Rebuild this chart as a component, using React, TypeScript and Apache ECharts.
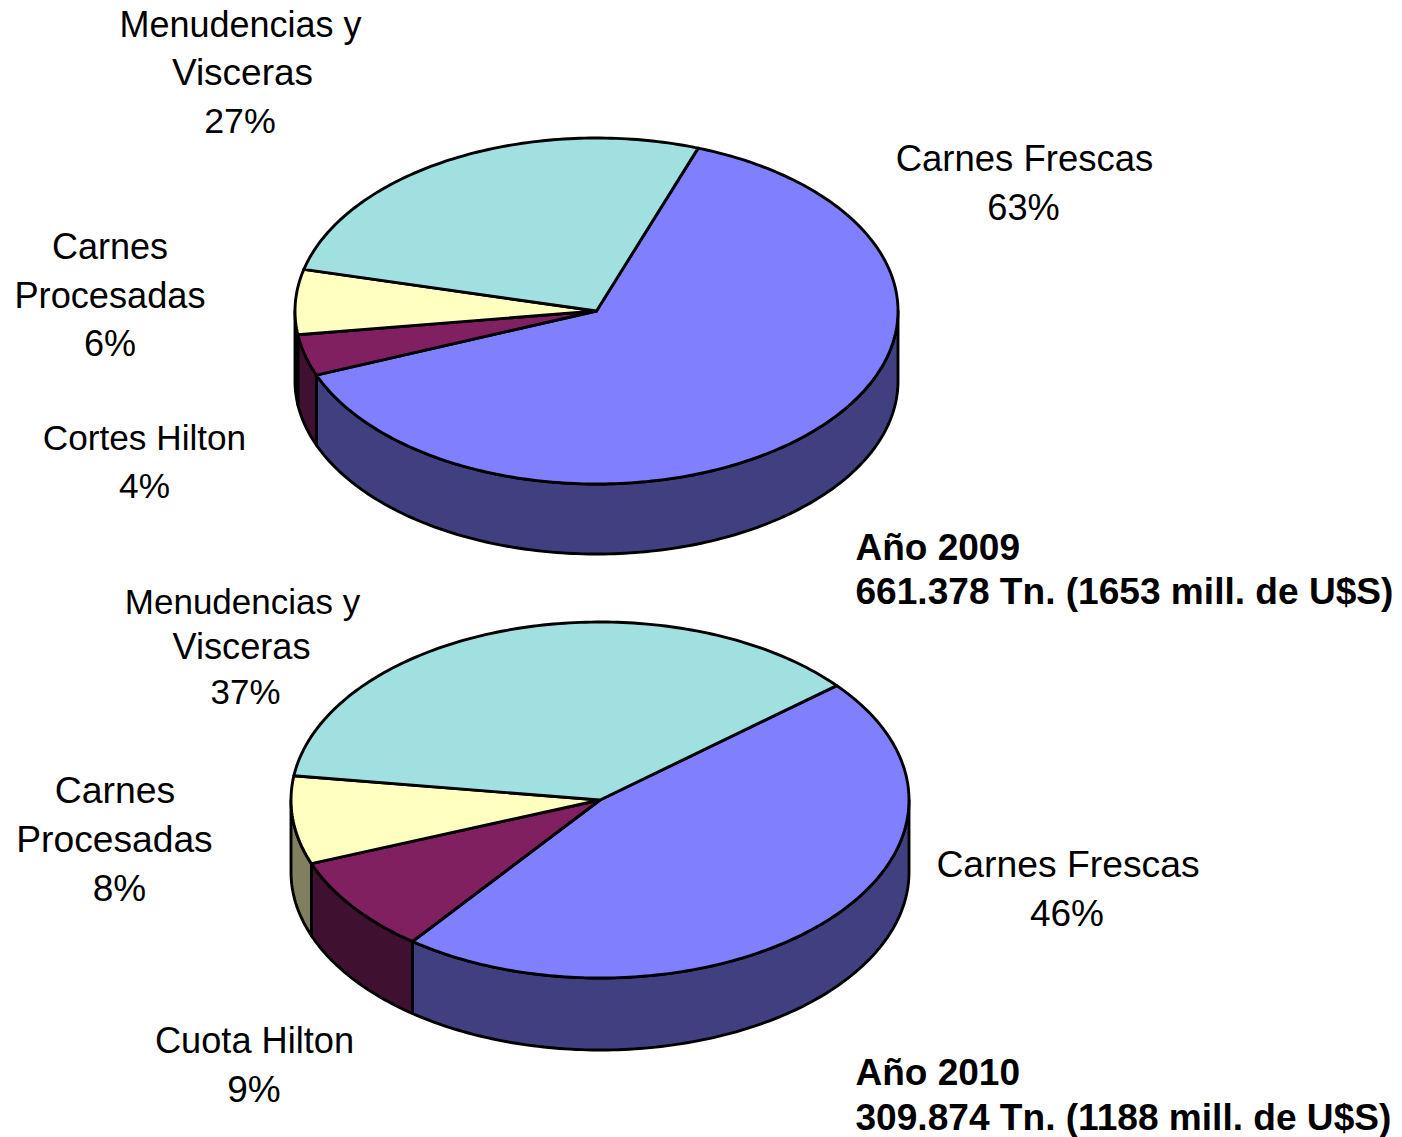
import React, { useEffect, useRef } from "react";
import * as echarts from "echarts";

const categories2009 = ["Carnes Frescas", "Cortes Hilton", "Carnes Procesadas", "Menudencias y Visceras"];
const categories2010 = ["Carnes Frescas", "Cuota Hilton", "Carnes Procesadas", "Menudencias y Visceras"];
const values2009 = [63.49, 3.85, 6.05, 26.61];
const values2010 = [46.49, 8.8, 8.0, 36.71];
const caption2009 = ["Año 2009", "661.378 Tn. (1653 mill. de U$S)"];
const caption2010 = ["Año 2010", "309.874 Tn. (1188 mill. de U$S)"];

const topColors = ["#8080FF", "#802060", "#FFFFC0", "#A0E0E0"];
const sideColors = ["#404080", "#401030", "#808060", "#507070"];
const FONT = '"Liberation Sans", Arial, sans-serif';

type Pie = { cx: number; cy: number; rx: number; ry: number; depth: number; start: number };
const pie2009: Pie = { cx: 596.5, cy: 311, rx: 301.5, ry: 173, depth: 70, start: 19.7 };
const pie2010: Pie = { cx: 600, cy: 800, rx: 309, ry: 178, depth: 72, start: 50 };

function pt(p: Pie, deg: number, dy = 0): number[] {
  const t = (deg * Math.PI) / 180;
  return [p.cx + p.rx * Math.sin(t), p.cy - p.ry * Math.cos(t) + dy];
}
function arc(p: Pie, a: number, b: number, dy = 0): number[][] {
  const out: number[][] = [];
  const n = Math.max(2, Math.ceil(Math.abs(b - a)));
  for (let i = 0; i <= n; i++) out.push(pt(p, a + ((b - a) * i) / n, dy));
  return out;
}
function span(values: number[], idx: number, start: number): [number, number] {
  const total = values.reduce((s, v) => s + v, 0);
  let acc = 0;
  for (let i = 0; i < idx; i++) acc += values[i];
  return [start + (acc / total) * 360, start + ((acc + values[idx]) / total) * 360];
}

function pieSeries(p: Pie, names: string[], values: number[]): any[] {
  const data = values.map((v, i) => ({ name: names[i], value: v }));
  const stroke = { stroke: "#000", lineWidth: 2.9, lineJoin: "round" };
  return [
    {
      type: "custom",
      coordinateSystem: "none",
      silent: true,
      z: 1,
      data,
      renderItem: (params: any) => {
        const i = params.dataIndex;
        const [a, b] = span(values, i, p.start);
        const s = Math.max(a, 90);
        const e = Math.min(b, 270);
        if (e <= s) return { type: "group", children: [] };
        const points = [...arc(p, s, e), ...arc(p, e, s, p.depth)];
        return { type: "polygon", shape: { points }, style: { fill: sideColors[i], ...stroke } };
      },
    },
    {
      type: "custom",
      coordinateSystem: "none",
      silent: true,
      z: 2,
      data,
      renderItem: (params: any) => {
        const i = params.dataIndex;
        const [a, b] = span(values, i, p.start);
        const points = [[p.cx, p.cy], ...arc(p, a, b)];
        return { type: "polygon", shape: { points }, style: { fill: topColors[i], ...stroke } };
      },
    },
  ];
}

function txt(text: string, x: number, y: number, size: number, bold = false, align = "center"): any {
  return {
    type: "text",
    x,
    y,
    silent: true,
    style: {
      text,
      fill: "#000",
      fontFamily: FONT,
      fontSize: size,
      fontWeight: bold ? "bold" : "normal",
      align,
      verticalAlign: "middle",
    },
  };
}

const pctLabel = (v: number) => `${Math.round(v)}%`;

function buildTexts(): any[] {
  const m1a = categories2009[3].slice(0, 13);
  const m1b = categories2009[3].slice(14);
  const pr1a = categories2009[2].slice(0, 6);
  const pr1b = categories2009[2].slice(7);
  return [
    txt(m1a, 240.5, 24, 36),
    txt(m1b, 242.5, 72.5, 37),
    txt(pctLabel(values2009[3]), 240, 121, 35.8),
    txt(categories2009[0], 1024.5, 158, 36.5),
    txt(pctLabel(values2009[0]), 1023.5, 207, 36.2),
    txt(pr1a, 110, 246, 36),
    txt(pr1b, 110, 295, 36.2),
    txt(pctLabel(values2009[2]), 110, 343, 36),
    txt(categories2009[1], 144.5, 437.5, 35.2),
    txt(pctLabel(values2009[1]), 144.5, 485.5, 35.2),
    txt(caption2009[0], 855.5, 547, 37, true, "left"),
    txt(caption2009[1], 855.5, 591, 37.08, true, "left"),
    txt(m1a, 242.5, 601, 35),
    txt(m1b, 241.5, 646, 36.2),
    txt(pctLabel(values2010[3]), 245.5, 691, 34.9),
    txt(pr1a, 115, 790, 37.4),
    txt(pr1b, 114.5, 839, 37.2),
    txt(pctLabel(values2010[2]), 119.5, 888, 37),
    txt(categories2010[0], 1068, 864, 37.3),
    txt(pctLabel(values2010[0]), 1067, 913.5, 37),
    txt(categories2010[1], 254.5, 1040, 36.2),
    txt(pctLabel(values2010[1]), 254, 1089, 37),
    txt(caption2010[0], 855.5, 1072, 37, true, "left"),
    txt(caption2010[1], 855.5, 1117, 37.08, true, "left"),
  ];
}

export default function App() {
  const ref = useRef<HTMLDivElement>(null);
  useEffect(() => {
    const chart = echarts.init(ref.current!, undefined, { renderer: "svg" });
    chart.setOption({
      animation: false,
      backgroundColor: "#fff",
      series: [
        ...pieSeries(pie2009, categories2009, values2009),
        ...pieSeries(pie2010, categories2010, values2010),
      ],
      graphic: { elements: buildTexts() },
    });
    return () => chart.dispose();
  }, []);
  return <div ref={ref} style={{ position: "fixed", left: 0, top: 0, width: 1402, height: 1137 }} />;
}
